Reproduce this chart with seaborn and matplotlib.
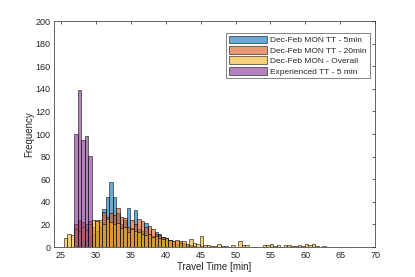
import numpy as np
import pandas as pd
import matplotlib
matplotlib.use("Agg")
import matplotlib.pyplot as plt
import seaborn as sns

# bin left edges [min], 0.5 min wide
bin_lefts = np.arange(25.4, 62.9, 0.5)
bin_width = 0.5

# Dec-Feb MON TT - 5min
tt_5min = [0, 0, 0, 2, 4, 6, 8, 10, 12, 14,
           18, 34, 44, 58, 44, 30, 20, 24, 35, 17,
           33, 16, 14, 21, 12, 10, 13, 12, 9, 8,
           6, 4, 3, 2, 3, 1, 2, 1, 0, 0]

# Dec-Feb MON TT - 20min
tt_20min = [0, 0, 0, 20, 24, 22, 20, 23, 18, 24,
            22, 31, 27, 30, 28, 35, 27, 26, 18, 24,
            20, 25, 23, 18, 19, 16, 12, 11, 9, 8,
            6, 5, 5, 5, 4, 2, 1, 1, 0, 1]

# Dec-Feb MON - Overall
overall = [8, 12, 11, 16, 14, 18, 15, 20, 24, 23,
           24, 20, 25, 22, 20, 21, 17, 18, 13, 16,
           14, 13, 12, 11, 12, 9, 10, 8, 7, 8,
           6, 5, 6, 4, 5, 3, 7, 4, 3, 10,
           2, 2, 1, 1, 3, 1, 1, 0, 2, 0,
           5, 2, 2, 0, 0, 0, 0, 2, 2, 3,
           1, 2, 0, 2, 2, 1, 1, 2, 1, 3,
           2, 3, 1, 0, 1]

# Experienced TT - 5 min (starts at 26.9)
exp_start = 3
experienced = [100, 139, 95, 98, 81]

labels = ["Dec-Feb MON TT - 5min", "Dec-Feb MON TT - 20min",
          "Dec-Feb MON - Overall", "Experienced TT - 5 min"]
colors = ["#0072BD", "#D95319", "#EDB120", "#7E2F8E"]

sns.set_style("white")
plt.rcParams["font.family"] = ["Liberation Sans", "DejaVu Sans"]

fig = plt.figure(figsize=(4.15, 2.77), dpi=100)
ax = fig.add_axes([0.130, 0.108, 0.774, 0.816])

series = [
    (bin_lefts[:len(tt_5min)], tt_5min),
    (bin_lefts[:len(tt_20min)], tt_20min),
    (bin_lefts[:len(overall)], overall),
    (bin_lefts[exp_start:exp_start + len(experienced)], experienced),
]

for (lefts, counts), lab, col in zip(series, labels, colors):
    df = pd.DataFrame({"tt": lefts + bin_width / 2, "n": counts})
    sns.histplot(data=df, x="tt", weights="n", binwidth=bin_width,
                 binrange=(lefts[0], lefts[-1] + bin_width),
                 color=col, alpha=0.6, edgecolor=(0, 0, 0, 0.75),
                 linewidth=0.5, label=lab, ax=ax)

ax.set_xlim(24, 70)
ax.set_ylim(0, 200)
ax.set_xticks(range(25, 71, 5))
ax.set_yticks(range(0, 201, 20))
ax.set_xlabel("Travel Time [min]", fontsize=7, color="#262626", labelpad=2)
ax.set_ylabel("Frequency", fontsize=7, color="#262626", labelpad=1)

ax.tick_params(direction="in", length=2.5, width=0.5, colors="#262626",
               labelsize=6.5, top=True, right=True, pad=2.5)
for s in ax.spines.values():
    s.set_color("#262626")
    s.set_linewidth(0.5)

leg = ax.legend(loc="upper right", bbox_to_anchor=(0.984, 0.948),
                fontsize=6, frameon=True, fancybox=False,
                handlelength=4.6, handleheight=1.05, handletextpad=0.4,
                borderpad=0.35, labelspacing=0.2, borderaxespad=0)
leg.get_frame().set_edgecolor("#262626")
leg.get_frame().set_linewidth(0.5)

fig.savefig("out.png", dpi=100)
